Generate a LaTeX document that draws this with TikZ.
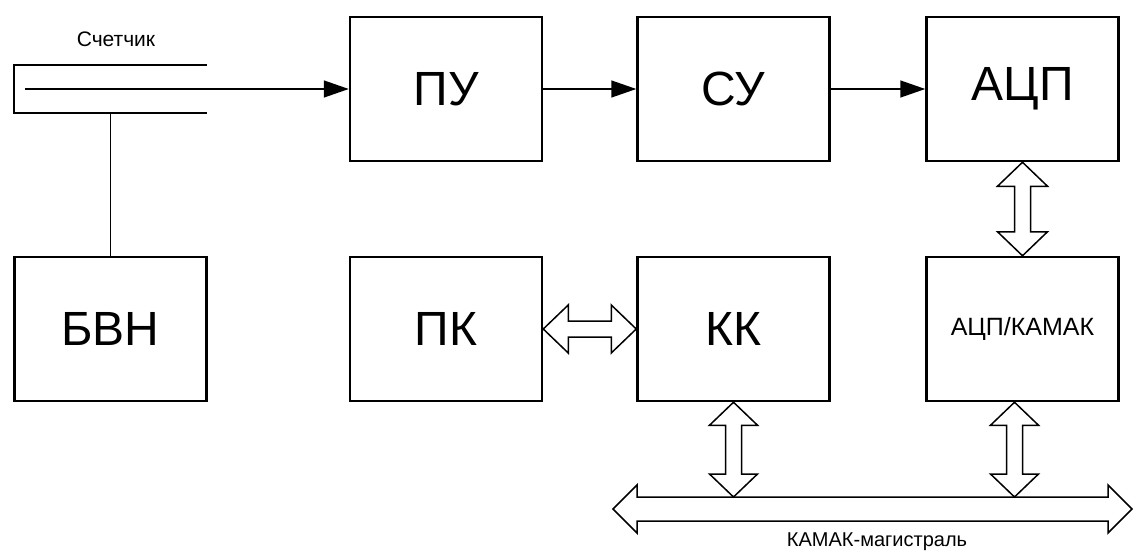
\documentclass[tikz,border=0pt]{standalone}
\usepackage{fontspec}
\setmainfont{Liberation Sans}
\usetikzlibrary{arrows.meta,calc}
\newcommand{\vdblarrow}[2]{\draw[fat] (#1) -- ++(24,23) -- ++(-16,0) -- ($(#2)+(8,-23)$) -- ++(16,0) -- (#2) -- ++(-24,-23) -- ++(16,0) -- ($(#1)+(-8,23)$) -- ++(-16,0) -- cycle;}
\begin{document}
\begin{tikzpicture}[x=1pt,y=-1pt,
  block/.style={draw,line width=2.5pt,minimum width=192pt,minimum height=144pt,inner sep=0pt,font=\fontsize{48}{48}\selectfont},
  conn/.style={line width=1.5pt,-{Triangle[length=25pt,width=17pt]}},
  wire/.style={line width=1.5pt},
  thickline/.style={line width=2.5pt},
  fat/.style={draw,line width=1.5pt,line join=miter,fill=white},
  lbl/.style={font=\fontsize{21}{21}\selectfont,inner sep=0pt}]
\useasboundingbox (0,0) rectangle (1133,551);
% blocks
\node[block] (pu) at (446,89) {ПУ};
\node[block] (su) at (733.5,89) {СУ};
\node[block] (adc) at (1022.5,89) {АЦП};
\node[block] (bvn) at (110.5,329) {БВН};
\node[block] (pk) at (446,329) {ПК};
\node[block] (kk) at (733.5,329) {КК};
\node[block,font=\fontsize{25}{25}\selectfont] (adck) at (1022.5,329) {АЦП/КАМАК};
% counter
\coordinate (ctl) at (14,65);
\coordinate (ctr) at (207,65);
\coordinate (cbl) at (14,113);
\coordinate (cbr) at (207,113);
\coordinate (cml) at (25,89);
\coordinate (cmr) at (207,89);
\draw[thickline] (ctr) -- (ctl) -- (cbl) -- (cbr);
\draw[thickline] (cml) -- (cmr);
\node[lbl,anchor=base] (ctext) at (116,47) {Счетчик};
\draw[conn] (cmr) -- (pu.west);
\draw[wire] (bvn.north |- cbl) -- (bvn.north);
% signal chain
\draw[conn] (pu.east) -- (su.west);
\draw[conn] (su.east) -- (adc.west);
% PK <-> KK
\draw[fat] (pk.east) -- ++(25,-24) -- ++(0,16) -- ($(kk.west)+(-25,-8)$) -- ++(0,-16) -- (kk.west) -- ++(-25,24) -- ++(0,-16) -- ($(pk.east)+(25,8)$) -- ++(0,16) -- cycle;
% ADC <-> ADC/CAMAC
\draw[fat] (adc.south) -- ++(25,24) -- ++(-17,0) -- ($(adck.north)+(8,-24)$) -- ++(17,0) -- (adck.north) -- ++(-25,-24) -- ++(17,0) -- ($(adc.south)+(-8,24)$) -- ++(-17,0) -- cycle;
% bus
\coordinate (busL) at (613,509);
\coordinate (busR) at (1132,509);
\coordinate (bustop) at (0,497);
\draw[fat] (busL) -- ++(24,-24) -- ++(0,12) -- ($(busR)+(-24,-12)$) -- ++(0,-12) -- (busR) -- ++(-24,24) -- ++(0,-12) -- ($(busL)+(24,12)$) -- ++(0,12) -- cycle;
\node[lbl,anchor=base,font=\fontsize{20}{20}\selectfont] (bustext) at (877,546) {КАМАК-магистраль};
\coordinate (kkb) at (kk.south |- bustop);
\coordinate (ab1) at ($(adck.south)+(-8,0)$);
\coordinate (ab2) at (ab1 |- bustop);
\vdblarrow{kk.south}{kkb}
\vdblarrow{ab1}{ab2}
\end{tikzpicture}
\end{document}
